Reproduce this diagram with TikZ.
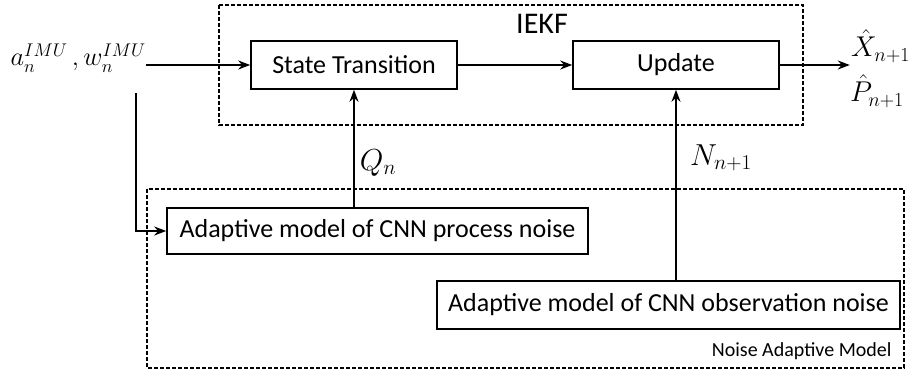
\documentclass[tikz,border=0pt]{standalone}
\usepackage{fontspec}
\setmainfont{Carlito}
\usetikzlibrary{arrows.meta}

% math labels drawn larger than the math font sizes allow
\newcommand{\bigmath}[2][1.22]{\scalebox{#1}{$#2$}}

\begin{document}
\begin{tikzpicture}[x=1pt,y=-1pt,
    block/.style={draw, line width=1.6pt, inner sep=0pt, font=\fontsize{26}{30}\selectfont},
    frame/.style={draw, line width=1.6pt, dash pattern=on 4pt off 2pt},
    arr/.style={line width=1.6pt, -{Stealth[length=12pt,width=9pt]}},
    lbl/.style={inner sep=0pt, font=\fontsize{24}{28}\selectfont}
]
    \useasboundingbox (0,0) rectangle (912,372);

    % Dashed frames
    \draw[frame] (219,5) rectangle (803,125);
    \draw[frame] (147,189) rectangle (904,368);
    \node[font=\fontsize{30}{32}\selectfont] (iekf) at (542,24) {IEKF};
    \node[anchor=east, font=\fontsize{20}{24}\selectfont] (nam) at (895,351) {Noise Adaptive Model};

    % Blocks
    \node[block, minimum width=206pt, minimum height=48pt] (st) at (354,65) {State Transition};
    \node[block, minimum width=206pt, minimum height=48pt] (upd) at (676,65) {Update};
    \node[block, minimum width=421pt, minimum height=46pt] (proc) at (377.5,231) {Adaptive model of CNN process noise};
    \node[block, minimum width=463pt, minimum height=48pt] (obs) at (668.5,305) {Adaptive model of CNN observation noise};

    % Input and output
    \node[lbl, anchor=east] (imu) at (146,58) {\bigmath[1.06]{a_n^{IMU}\,,w_n^{IMU}}};
    \draw[arr] (imu.east |- st.west) -- (st.west);
    \draw[arr] (st.east) -- (upd.west);
    \coordinate (tap) at (136,93);
    \draw[arr] (tap) |- (proc.west);
    \draw[arr] (upd.east) -- ++(70,0) coordinate (out);
    \node[lbl, anchor=west] (xh) at (851,46) {\bigmath[1.15]{\hat{X}_{n+1}}};
    \node[lbl, anchor=west] (ph) at (850,91) {\bigmath[1.15]{\hat{P}_{n+1}}};

    % Noise covariances
    \draw[arr] (st.south |- proc.north) -- (st.south);
    \draw[arr] (upd.south |- obs.north) -- (upd.south);
    \node[lbl] (q) at (378,163) {\bigmath{Q_n}};
    \node[lbl] (nn) at (721,158) {\bigmath{N_{n+1}}};

\end{tikzpicture}
\end{document}
